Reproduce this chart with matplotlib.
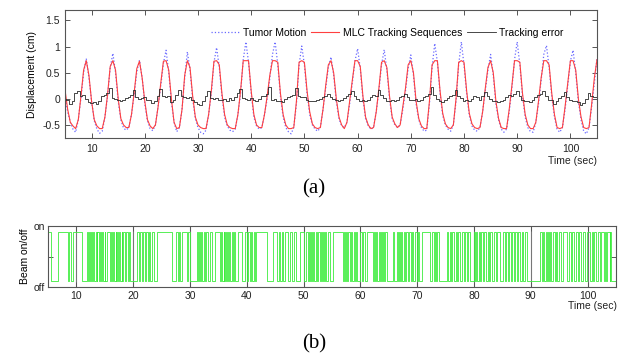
"""Tumor motion / MLC tracking and beam on/off"""
import numpy as np
import matplotlib
matplotlib.use('Agg')
import matplotlib.pyplot as plt

plt.rcParams['font.family'] = ['Liberation Sans', 'DejaVu Sans']

# sample times 5 .. 105 s, every 0.5 s
t = np.arange(5.0, 105.01, 0.5)

tumor = [
    0.05, -0.25, -0.45, -0.58, -0.64, -0.40, 0.02, 0.50, 0.77, 0.40,
    -0.05, -0.42, -0.58, -0.66, -0.62, -0.35, 0.05, 0.60, 0.87, 0.50,
    -0.05, -0.40, -0.56, -0.60, -0.55, -0.30, 0.08, 0.52, 0.74, 0.40,
    -0.10, -0.42, -0.57, -0.61, -0.50, -0.15, 0.25, 0.68, 0.93, 0.50,
    -0.05, -0.45, -0.63, -0.55, -0.20, 0.40, 0.90, 0.55, 0.00, -0.38,
    -0.55, -0.64, -0.67, -0.60, -0.30, 0.10, 0.70, 0.98, 0.60, 0.05,
    -0.35, -0.52, -0.60, -0.63, -0.58, -0.30, 0.10, 0.75, 1.09, 0.70,
    0.10, -0.35, -0.52, -0.58, -0.55, -0.30, 0.00, 0.40, 0.85, 1.09,
    0.65, 0.05, -0.35, -0.55, -0.63, -0.67, -0.55, -0.10, 0.65, 1.01,
    0.65, 0.10, -0.30, -0.50, -0.58, -0.62, -0.55, -0.20, 0.20, 0.60,
    0.80, 0.45, -0.05, -0.38, -0.52, -0.55, -0.45, -0.10, 0.30, 0.72,
    0.96, 0.58, 0.00, -0.38, -0.52, -0.58, -0.55, -0.25, 0.15, 0.65,
    0.94, 0.55, 0.00, -0.38, -0.50, -0.55, -0.50, -0.20, 0.15, 0.58,
    0.84, 0.45, -0.10, -0.40, -0.55, -0.62, -0.60, -0.10, 0.60, 1.06,
    0.70, 0.10, -0.32, -0.50, -0.58, -0.62, -0.50, -0.05, 0.65, 1.09,
    0.65, 0.10, -0.32, -0.52, -0.60, -0.62, -0.55, -0.25, 0.15, 0.55,
    0.85, 0.45, -0.10, -0.40, -0.58, -0.64, -0.58, -0.25, 0.20, 0.75,
    1.09, 0.65, 0.05, -0.35, -0.55, -0.63, -0.64, -0.45, -0.10, 0.35,
    0.85, 1.02, 0.60, 0.05, -0.35, -0.58, -0.64, -0.55, -0.20, 0.25,
    0.72, 0.93, 0.50, -0.05, -0.40, -0.62, -0.67, -0.55, -0.15, 0.30,
    0.78,
]

mlc = [
    0.17, -0.20, -0.45, -0.52, -0.57, -0.40, 0.05, 0.55, 0.73, 0.45,
    -0.05, -0.40, -0.52, -0.57, -0.57, -0.35, 0.08, 0.62, 0.73, 0.55,
    0.00, -0.38, -0.50, -0.55, -0.55, -0.30, 0.12, 0.58, 0.72, 0.40,
    -0.05, -0.40, -0.52, -0.57, -0.50, -0.15, 0.30, 0.72, 0.73, 0.55,
    0.00, -0.45, -0.57, -0.55, -0.20, 0.45, 0.73, 0.60, 0.05, -0.35,
    -0.50, -0.55, -0.57, -0.57, -0.30, 0.15, 0.72, 0.73, 0.65, 0.10,
    -0.30, -0.50, -0.55, -0.57, -0.57, -0.30, 0.15, 0.73, 0.73, 0.73,
    0.15, -0.30, -0.50, -0.55, -0.55, -0.30, 0.05, 0.45, 0.73, 0.73,
    0.70, 0.10, -0.30, -0.50, -0.57, -0.57, -0.55, -0.05, 0.70, 0.73,
    0.70, 0.15, -0.25, -0.48, -0.55, -0.57, -0.55, -0.20, 0.25, 0.65,
    0.73, 0.50, 0.00, -0.35, -0.50, -0.57, -0.45, -0.05, 0.35, 0.73,
    0.73, 0.62, 0.05, -0.35, -0.50, -0.57, -0.55, -0.25, 0.20, 0.70,
    0.73, 0.60, 0.05, -0.35, -0.48, -0.55, -0.50, -0.15, 0.20, 0.65,
    0.73, 0.50, -0.05, -0.38, -0.52, -0.57, -0.57, -0.05, 0.65, 0.73,
    0.73, 0.15, -0.28, -0.48, -0.55, -0.57, -0.50, 0.00, 0.70, 0.73,
    0.70, 0.15, -0.28, -0.48, -0.55, -0.57, -0.55, -0.25, 0.20, 0.60,
    0.73, 0.50, -0.05, -0.38, -0.55, -0.57, -0.57, -0.20, 0.25, 0.73,
    0.73, 0.70, 0.10, -0.30, -0.50, -0.57, -0.57, -0.45, -0.05, 0.40,
    0.73, 0.73, 0.65, 0.10, -0.30, -0.55, -0.57, -0.55, -0.15, 0.30,
    0.73, 0.73, 0.55, 0.00, -0.35, -0.55, -0.57, -0.55, -0.10, 0.40,
    0.75,
]

error = [
    0.00, -0.03, -0.10, -0.05, 0.12, 0.15, 0.05, 0.08, 0.00, -0.06,
    -0.08, -0.06, -0.10, -0.05, 0.05, 0.08, 0.12, 0.20, 0.02, 0.00,
    -0.02, -0.05, -0.03, 0.02, 0.04, 0.08, 0.17, 0.03, 0.00, 0.02,
    0.03, -0.02, -0.03, -0.08, -0.05, 0.05, 0.19, 0.05, 0.03, 0.05,
    -0.06, -0.03, 0.08, 0.16, 0.05, 0.03, 0.02, 0.04, -0.02, -0.06,
    -0.10, -0.12, -0.04, 0.05, 0.15, 0.02, 0.00, 0.02, -0.02, -0.03,
    0.00, -0.05, 0.02, -0.02, 0.04, 0.12, 0.18, 0.02, 0.00, -0.03,
    0.02, -0.03, -0.04, 0.00, 0.05, 0.06, 0.10, 0.22, -0.02, 0.00,
    -0.05, -0.04, -0.07, 0.00, 0.03, 0.05, 0.08, 0.20, 0.05, 0.03,
    0.03, -0.03, -0.05, -0.04, -0.05, -0.02, 0.00, 0.04, 0.06, 0.10,
    0.03, 0.00, -0.03, -0.04, -0.02, 0.02, 0.06, 0.10, 0.15, 0.05,
    0.00, -0.04, -0.03, -0.05, -0.02, 0.03, 0.08, 0.05, 0.16, 0.07,
    0.02, -0.04, -0.05, -0.03, -0.05, -0.02, 0.03, 0.05, 0.10, 0.04,
    -0.02, -0.03, 0.00, -0.04, -0.02, 0.03, 0.06, 0.10, 0.22, 0.08,
    0.00, -0.04, -0.06, -0.03, 0.02, 0.05, 0.08, 0.17, 0.06, 0.02,
    -0.05, -0.03, -0.05, 0.00, 0.05, 0.03, -0.02, 0.05, 0.13, 0.06,
    0.00, -0.04, -0.05, -0.07, -0.05, -0.02, 0.03, 0.08, 0.05, 0.10,
    0.15, 0.05, -0.03, -0.05, -0.04, -0.06, -0.02, 0.04, 0.08, 0.10,
    0.15, 0.05, -0.02, -0.03, -0.10, -0.04, 0.02, 0.05, 0.13, 0.04,
    -0.02, -0.05, -0.04, -0.06, -0.12, -0.08, 0.00, 0.12, 0.06, 0.03,
    0.03,
]

# beam-off intervals (sec); beam is on otherwise
beam_off = [
    (5.6, 6.8), (8.5, 8.7), (9.0, 9.4), (10.9, 11.8),
    (12.0, 12.2), (12.4, 12.6), (12.8, 12.9), (13.1, 13.4), (13.6, 13.7),
    (13.9, 14.2), (14.4, 14.5), (14.7, 15.0), (15.1, 15.3),
    (15.9, 16.1), (16.3, 16.5), (16.6, 16.9), (17.0, 17.2), (17.4, 17.5),
    (17.7, 18.0), (18.1, 18.2), (18.6, 18.8), (19.0, 19.2), (19.5, 20.7),
    (21.0, 21.2), (21.5, 21.7), (22.0, 22.3), (22.6, 22.8), (23.0, 23.3),
    (23.7, 24.2), (26.8, 27.6), (27.8, 28.0), (28.2, 28.6),
    (29.4, 29.6), (30.0, 31.2), (31.4, 31.6), (31.8, 31.9), (32.1, 32.4),
    (32.6, 32.9), (33.2, 33.5), (33.9, 34.4),
    (35.3, 35.5), (35.7, 35.9), (36.0, 36.2), (36.4, 36.6), (36.7, 36.9),
    (37.1, 37.4), (37.6, 37.8), (38.0, 38.5),
    (39.1, 39.7), (40.0, 40.2), (40.5, 40.8), (41.0, 41.3), (41.5, 41.7),
    (43.5, 44.6), (45.3, 45.6), (45.9, 46.2), (46.4, 46.7),
    (47.3, 47.6), (48.0, 48.3), (48.6, 49.4),
    (50.0, 50.5), (50.7, 50.9), (51.1, 51.3), (51.5, 51.7), (51.9, 52.1),
    (52.3, 52.6), (52.8, 53.0), (53.2, 53.4), (53.6, 53.8), (54.0, 54.3),
    (54.6, 55.2),
    (56.9, 57.1), (57.3, 57.5), (57.7, 57.9), (58.1, 58.3), (58.5, 58.8),
    (59.0, 59.2), (59.4, 59.9), (60.2, 60.5), (60.8, 61.2),
    (62.2, 62.4), (62.6, 62.8), (63.0, 63.2), (63.4, 63.6), (63.8, 64.0),
    (64.2, 64.4), (64.6, 65.7), (66.0, 66.4),
    (66.6, 66.8), (67.0, 67.2), (67.4, 67.7), (67.9, 68.1), (68.3, 68.6),
    (68.9, 69.1), (69.3, 69.6), (69.9, 70.1), (70.4, 70.8),
    (72.3, 72.6), (72.9, 73.1), (73.3, 73.5), (73.8, 75.2),
    (75.5, 75.7), (76.0, 76.2), (76.5, 76.8), (77.0, 77.2), (77.5, 77.9),
    (78.2, 78.4), (78.7, 78.9), (79.3, 80.0),
    (80.2, 80.4), (80.6, 80.9), (81.1, 81.3), (81.6, 81.8), (82.1, 82.4),
    (82.7, 82.9), (83.2, 83.5), (83.9, 84.1), (84.6, 85.1),
    (85.4, 85.6), (85.9, 86.2), (86.5, 86.7), (87.0, 87.3), (87.6, 87.8),
    (88.1, 88.4), (88.7, 88.9), (89.3, 91.6),
    (91.9, 92.1), (92.4, 92.6), (92.8, 93.0), (93.2, 93.4), (93.6, 93.9),
    (94.2, 94.4), (94.7, 95.0), (95.3, 95.7),
    (96.4, 96.7), (97.0, 97.2), (97.6, 97.9), (98.3, 98.5), (98.9, 99.2),
    (99.5, 99.9),
    (100.4, 100.7), (101.0, 101.2), (101.5, 101.8), (102.1, 102.4),
    (102.8, 103.0), (103.3, 103.5), (103.9, 104.0), (104.2, 105.0),
]

x_ticks = [10, 20, 30, 40, 50, 60, 70, 80, 90, 100]
y_ticks_a = [-0.5, 0, 0.5, 1, 1.5]
y_labels_a = ['-0.5', '0', '0.5', '1', '1.5']

axis_col = '#555555'
fs = 7.5


def style_axes(ax):
    for s in ax.spines.values():
        s.set_color(axis_col)
        s.set_linewidth(0.8)
    ax.tick_params(direction='in', top=True, right=True, length=3.5,
                   width=0.7, color=axis_col, labelsize=fs, labelcolor='#222222')


fig = plt.figure(figsize=(6.28, 3.6), dpi=100)

# (a) displacement
ax1 = fig.add_axes([65 / 628, 1 - 138 / 360, 532 / 628, 128 / 360])
ax1.plot(t, tumor, ':', color='#6a6aff', lw=0.9, label='Tumor Motion')
ax1.plot(t, mlc, '-', color='#ff4040', lw=0.8, label='MLC Tracking Sequences')
ax1.plot(t, error, '-', color='#2a2a2a', lw=0.6, drawstyle='steps-mid',
         label='Tracking error')
ax1.set_xlim(5, 105)
ax1.set_ylim(-0.75, 1.7)
ax1.set_xticks(x_ticks)
ax1.set_yticks(y_ticks_a)
ax1.set_yticklabels(y_labels_a)
style_axes(ax1)
ax1.tick_params(axis='x', pad=4)
ax1.set_ylabel('Displacement (cm)', fontsize=fs, labelpad=4)
ax1.legend(loc='center right', bbox_to_anchor=(0.945, 0.82), ncol=3,
           frameon=False, fontsize=fs, handlelength=2.7, handletextpad=0.35,
           columnspacing=0.5, borderaxespad=0)
fig.text(597 / 628, 1 - 161 / 360, 'Time (sec)', fontsize=fs,
         ha='right', va='center', color='#222222')
fig.text(314 / 628, 1 - 189 / 360, '(a)', fontsize=15, ha='center',
         va='center', family=['Liberation Serif', 'DejaVu Serif'])

# (b) beam on/off
bx = [5.0]
by = [1]
for a, b in beam_off:
    bx += [a, a, b, b]
    by += [1, 0, 0, 1]
bx.append(105.0)
by.append(1)

ax2 = fig.add_axes([48 / 628, 1 - 287 / 360, 568 / 628, 61 / 360])
ax2.plot(bx, by, '-', color='#3cec3c', lw=0.6)
ax2.set_xlim(5, 105)
ax2.set_ylim(-0.12, 1.12)
ax2.set_xticks(x_ticks)
ax2.set_yticks([-0.12, 0.5, 1.12])
ax2.set_yticklabels(['off', '', 'on'])
ax2.grid(axis='x', color='#777777', lw=0.8)
ax2.set_axisbelow(True)
style_axes(ax2)
ax2.tick_params(axis='y', pad=2)
ax2.tick_params(axis='x', pad=3)
ax2.set_ylabel('Beam on/off', fontsize=fs, labelpad=3)
fig.text(617 / 628, 1 - 306 / 360, 'Time (sec)', fontsize=fs,
         ha='right', va='center', color='#222222')
fig.text(314 / 628, 1 - 344 / 360, '(b)', fontsize=15, ha='center',
         va='center', family=['Liberation Serif', 'DejaVu Serif'])

fig.savefig('out.png', dpi=100)
